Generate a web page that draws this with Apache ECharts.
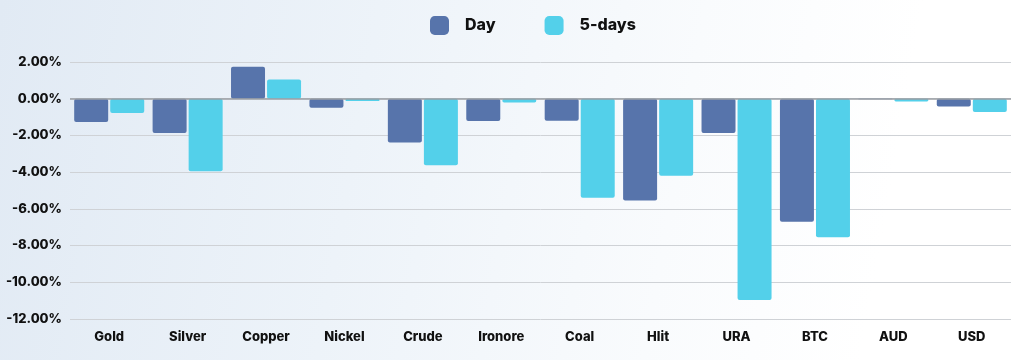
<!DOCTYPE html>
<html>
<head>
<meta charset="utf-8">
<script src="https://cdn.jsdelivr.net/npm/echarts@6/dist/echarts.min.js"></script>
<style>
html,body{margin:0;padding:0;}
body{width:1024px;height:360px;background:linear-gradient(100deg,#e1eaf4 0%,#edf3f9 35%,#f9fbfd 65%,#ffffff 85%);}
#chart{width:1024px;height:360px;}
</style>
</head>
<body>
<div id="chart"></div>
<script>
const categories = ['Gold','Silver','Copper','Nickel','Crude','Ironore','Coal','Hlit','URA','BTC','AUD','USD'];
const dayValues = [-1.27,-1.87,1.74,-0.49,-2.39,-1.22,-1.20,-5.55,-1.87,-6.70,-0.03,-0.42];
const fiveDayValues = [-0.78,-3.95,1.05,-0.13,-3.62,-0.20,-5.40,-4.20,-10.96,-7.55,-0.15,-0.73];
const yTicks = {min:-12, max:2, interval:2};

const font = 'Inter, "Open Sans", sans-serif';
const chart = echarts.init(document.getElementById('chart'), null, {renderer:'canvas'});
chart.setOption({
  backgroundColor: 'transparent',
  animation: false,
  legend: {
    top: 11,
    left: 425,
    itemWidth: 19,
    itemHeight: 19,
    itemGap: 49,
    textStyle: {fontFamily: font, fontWeight: 800, fontSize: 16, color: '#111', padding:[0,0,0,11]},
    data: [
      {name:'Day', icon:'roundRect'},
      {name:'5-days', icon:'roundRect'}
    ]
  },
  grid: {left: 70, right: 13, top: 62, bottom: 41},
  xAxis: {
    type: 'category',
    data: categories,
    axisLine: {show:false, onZero:false},
    axisTick: {show:false},
    axisLabel: {margin: 12, fontFamily: font, fontWeight: 800, fontSize: 13, color: '#111'}
  },
  yAxis: {
    type: 'value',
    min: yTicks.min, max: yTicks.max, interval: yTicks.interval,
    axisLine: {show:false},
    axisTick: {show:false},
    axisLabel: {margin: 8, fontFamily: font, fontWeight: 800, fontSize: 13, color: '#111',
      formatter: v => v.toFixed(2) + '%'},
    splitLine: {lineStyle: {color: '#cfd2d6', width: 1}}
  },
  series: [
    {
      name: 'Day', type: 'bar', data: dayValues,
      barWidth: 34, barGap: '6%',
      itemStyle: {color: '#5774ab', borderRadius: 2},
      markLine: {
        silent: true, symbol: 'none', label: {show:false},
        lineStyle: {color: '#9a9ea3', width: 1.5, type: 'solid'},
        data: [{yAxis: 0}]
      }
    },
    {
      name: '5-days', type: 'bar', data: fiveDayValues,
      barWidth: 34,
      itemStyle: {color: '#53d0ea', borderRadius: 2}
    }
  ]
});
</script>
</body>
</html>
